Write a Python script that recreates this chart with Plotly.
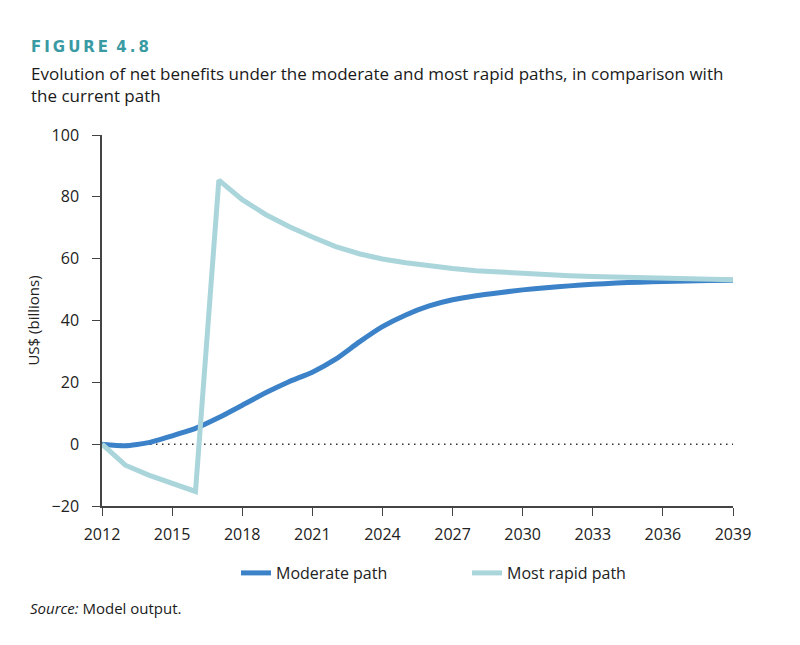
import plotly.graph_objects as go

# años y valores (miles de millones US$)
years = list(range(2012, 2040))
moderate = [0, -0.5, 0.5, 2.7, 5.1, 8.6, 12.6, 16.6, 20.2, 23.3,
            27.5, 33.0, 38.0, 41.8, 44.7, 46.7, 48.0, 49.0, 49.9, 50.6,
            51.2, 51.7, 52.1, 52.4, 52.6, 52.8, 52.9, 53.0]
rapid = [0, -6.8, -10.0, -12.7, -15.3, 85.4, 79.1, 74.3, 70.4, 67.0,
         63.9, 61.6, 59.9, 58.7, 57.6, 56.8, 56.1, 55.6, 55.2, 54.8,
         54.5, 54.2, 54.0, 53.8, 53.6, 53.4, 53.3, 53.2]
xticks = list(range(2012, 2040, 3))

fig = go.Figure()

fig.add_trace(go.Scatter(
    x=years, y=moderate, name="Moderate path", mode="lines",
    line=dict(color="#3b82c8", width=5, shape="spline", smoothing=0.5)
))
fig.add_trace(go.Scatter(
    x=years, y=rapid, name="Most rapid path", mode="lines",
    line=dict(color="#a9d5db", width=5)
))

# línea punteada en cero
fig.add_hline(y=0, line=dict(color="#333333", width=1.5, dash="1.5px,4.5px"), layer="below")

# la página tiene 8px de margen, la figura se ajusta a eso
W, H = 792, 637
l, r, t, b = 94, 67, 127, 139
pw, ph = W - l - r, H - t - b
def px(xp):
    return (xp - l) / pw
def py(yp):
    return (H - b - yp) / ph

fig.update_layout(
    width=W, height=H,
    template="plotly_white",
    font=dict(family="Open Sans", size=15, color="#222222"),
    margin=dict(l=l, r=r, t=t, b=b),
    showlegend=True,
    legend=dict(orientation="h", x=px(228), xanchor="left", y=py(565), yanchor="middle",
                font=dict(size=16), entrywidth=186, entrywidthmode="pixels"),
    xaxis=dict(range=[2012, 2039], tickvals=xticks, showgrid=False, zeroline=False,
               showline=True, linecolor="#444444", linewidth=1.5,
               ticks="outside", ticklen=8, tickcolor="#444444", tickfont=dict(size=16),
               ticklabelstandoff=5),
    yaxis=dict(range=[-20, 100], dtick=20, showgrid=False, zeroline=False,
               showline=True, linecolor="#444444", linewidth=1.5,
               ticks="outside", ticklen=8, tickcolor="#444444", tickfont=dict(size=16),
               ticklabelstandoff=10,
               title=dict(text="US$ (billions)", font=dict(size=15), standoff=8)),
    annotations=[
        dict(text="<b>F\u2009I\u2009G\u2009U\u2009R\u2009E\u2009 4\u2009.\u20098</b>",
             x=px(21), y=py(39), xref="paper", yref="paper", showarrow=False,
             xanchor="left", yanchor="middle",
             font=dict(family="DejaVu Sans", size=15, color="#3a9aa3")),
        dict(text="Evolution of net benefits under the moderate and most rapid paths, in comparison with<br>the current path",
             x=px(21), y=py(52), xref="paper", yref="paper", showarrow=False,
             xanchor="left", yanchor="top", align="left",
             font=dict(size=17, color="#1a1a1a")),
        dict(text="<i>Source:</i> Model output.", x=px(20), y=py(600),
             xref="paper", yref="paper", showarrow=False,
             xanchor="left", yanchor="middle", font=dict(size=15, color="#1a1a1a")),
    ],
)

fig.write_html("out.html")
